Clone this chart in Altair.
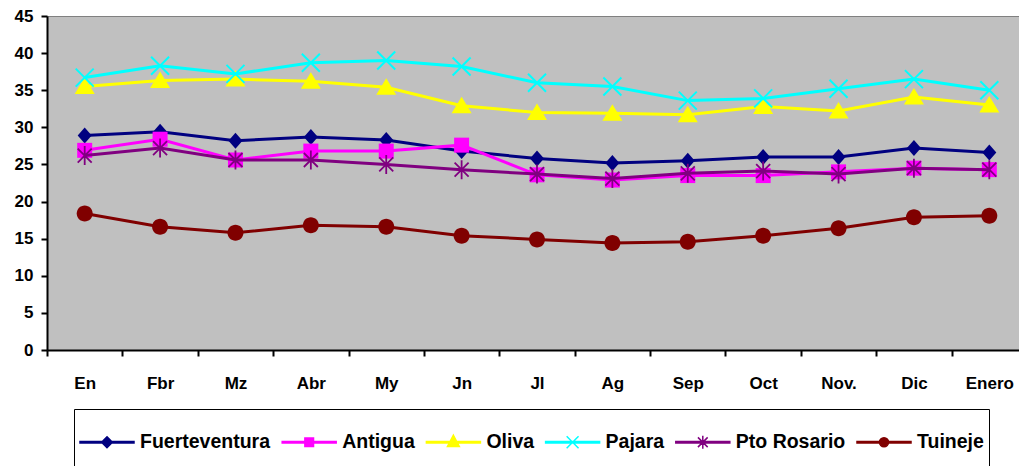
import altair as alt
import pandas as pd

months = ["En", "Fbr", "Mz", "Abr", "My", "Jn", "Jl", "Ag", "Sep", "Oct", "Nov.", "Dic", "Enero"]
series_names = ["Fuerteventura", "Antigua", "Oliva", "Pajara", "Pto Rosario", "Tuineje"]

fuerteventura = [28.9, 29.4, 28.2, 28.7, 28.3, 26.8, 25.8, 25.2, 25.5, 26.0, 26.0, 27.2, 26.6]
antigua = [26.9, 28.4, 25.6, 26.8, 26.8, 27.6, 23.6, 22.9, 23.5, 23.5, 24.0, 24.5, 24.3]
oliva = [35.5, 36.3, 36.5, 36.2, 35.4, 32.9, 32.0, 31.9, 31.7, 32.8, 32.2, 34.1, 33.0]
pajara = [36.7, 38.3, 37.2, 38.7, 39.0, 38.2, 36.0, 35.5, 33.6, 33.9, 35.2, 36.5, 35.0]
pto_rosario = [26.2, 27.2, 25.6, 25.6, 25.0, 24.3, 23.7, 23.1, 23.8, 24.1, 23.7, 24.5, 24.3]
tuineje = [18.4, 16.6, 15.8, 16.8, 16.6, 15.4, 14.9, 14.4, 14.6, 15.4, 16.4, 17.9, 18.1]

y_ticks = [0, 5, 10, 15, 20, 25, 30, 35, 40, 45]

colors = ["#000080", "#FF00FF", "#FFFF00", "#00FFFF", "#800080", "#800000"]

# chart markers (unit paths)
chart_markers = [
    ("M0,-0.8L0.7,0L0,0.8L-0.7,0Z", True, 1),
    ("M-0.75,-0.75L0.75,-0.75L0.75,0.75L-0.75,0.75Z", True, 1),
    ("M0,-0.9L1,0.75L-1,0.75Z", True, 1),
    ("M-0.9,-0.9L0.9,0.9M-0.9,0.9L0.9,-0.9", False, 2),
    ("M-0.7,-0.7L0.7,0.7M-0.7,0.7L0.7,-0.7M0,-0.95L0,0.95", False, 1.8),
    ("M0.8,0A0.8,0.8,0,1,1,-0.8,0A0.8,0.8,0,1,1,0.8,0Z", True, 1),
]

seg = "M-1,-0.03L1,-0.03L1,0.03L-1,0.03Z "
legend_paths = [
    seg + "M0,-0.2L0.2,0L0,0.2L-0.2,0Z",
    seg + "M-0.16,-0.16L0.16,-0.16L0.16,0.16L-0.16,0.16Z",
    seg + "M0,-0.26L0.22,0.16L-0.22,0.16Z",
    seg + "M-0.22,-0.22L0.22,0.22M-0.22,0.22L0.22,-0.22",
    seg + "M-0.18,-0.18L0.18,0.18M-0.18,0.18L0.18,-0.18M0,-0.24L0,0.24",
    seg + "M0.17,0A0.17,0.17,0,1,1,-0.17,0A0.17,0.17,0,1,1,0.17,0Z",
]

all_values = [fuerteventura, antigua, oliva, pajara, pto_rosario, tuineje]
rows = []
for name, vals in zip(series_names, all_values):
    for m, v in zip(months, vals):
        rows.append({"mes": m, "serie": name, "valor": v})
df = pd.DataFrame(rows)

x_enc = alt.X(
    "mes:N",
    sort=months,
    scale=alt.Scale(type="band", paddingInner=0, paddingOuter=0),
    axis=alt.Axis(title=None, labelAngle=0, tickBand="extent", labelPadding=19),
)
y_enc = alt.Y(
    "valor:Q",
    scale=alt.Scale(domain=[0, 45], nice=False, zero=True),
    axis=alt.Axis(title=None, values=y_ticks, grid=False, labelPadding=8),
)

base = alt.Chart(df)
layers = []
for name, col, (path, filled, sw) in zip(series_names, colors, chart_markers):
    sub = base.transform_filter(alt.datum.serie == name)
    layers.append(sub.mark_line(color=col, strokeWidth=3).encode(x=x_enc, y=y_enc))
    layers.append(
        sub.mark_point(shape=path, size=400, filled=filled, color=col,
                       strokeWidth=sw, opacity=1).encode(x=x_enc, y=y_enc)
    )

leg = alt.Legend(
    title=" ",
    titleOrient="bottom",
    titleFontSize=20,
    titlePadding=5,
    orient="none",
    legendX=27,
    legendY=393,
    direction="horizontal",
    columns=6,
    symbolSize=2916,
    symbolStrokeWidth=1.5,
    symbolOpacity=1,
    labelLimit=0,
)
legend_layer = base.mark_point(filled=True, opacity=0).encode(
    x=x_enc,
    y=y_enc,
    fill=alt.Fill("serie:N", scale=alt.Scale(domain=series_names, range=colors), legend=leg),
    stroke=alt.Stroke("serie:N", scale=alt.Scale(domain=series_names, range=colors), legend=leg),
    shape=alt.Shape("serie:N", scale=alt.Scale(domain=series_names, range=legend_paths), legend=leg),
)

chart = (
    alt.layer(legend_layer, *layers)
    .properties(
        width=980,
        height=334,
        padding={"left": 39, "top": 8, "right": -8, "bottom": 116},
        autosize=alt.AutoSizeParams(type="none"),
        background="white",
    )
    .configure_view(fill="#C0C0C0", stroke="#808080", strokeWidth=1)
    .configure_axis(
        labelFont="Liberation Sans",
        labelFontWeight="bold",
        labelFontSize=17,
        labelColor="black",
        domainColor="black",
        domainWidth=2,
        tickColor="black",
        tickWidth=2,
        tickSize=6,
    )
    .configure_legend(
        labelFont="Liberation Sans",
        labelFontWeight="bold",
        labelFontSize=19.5,
        labelColor="black",
        strokeColor="black",
        fillColor="white",
        padding=5,
        columnPadding=8.2,
        labelOffset=5,
    )
)

chart.save("out.html", embed_options={"renderer": "svg", "actions": False})
